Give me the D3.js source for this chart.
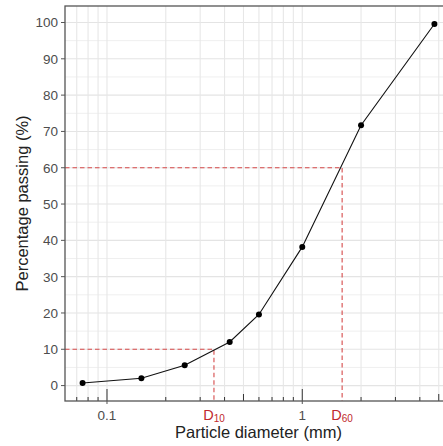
<!DOCTYPE html>
<html>
<head>
<meta charset="utf-8">
<script src="https://cdn.jsdelivr.net/npm/d3@7"></script>
<style>
  body { margin: 0; background: #fff; }
  svg { display: block; font-family: "Liberation Sans", Arial, sans-serif; }
</style>
</head>
<body>
<div id="chart"></div>
<script>
// grain size distribution curve (log x)

const diameters = [0.075, 0.15, 0.25, 0.425, 0.6, 1.0, 2.0, 4.75];
const passing = [0.7, 2.0, 5.6, 12.0, 19.6, 38.2, 71.7, 99.6];

const yTicks = [0, 10, 20, 30, 40, 50, 60, 70, 80, 90, 100];
const yMinor = [5, 15, 25, 35, 45, 55, 65, 75, 85, 95];
const xDecades = [0.01, 0.1, 1, 10];
const xMults = [1, 2, 3, 4, 5, 6, 7, 8, 9];
const xTickLabels = [{ v: 0.1, t: "0.1" }, { v: 1, t: "1" }];

const dMarks = [{ name: "10", d: 0.353, p: 10 }, { name: "60", d: 1.6, p: 60 }];

const W = 443, H = 446;
const panel = { left: 65, top: 6, right: 452, bottom: 401 };

const svg = d3.select("#chart").append("svg").attr("width", W).attr("height", H);

// 5% expansion like ggplot
const lx = d3.extent(diameters).map(Math.log10);
const lpad = (lx[1] - lx[0]) * 0.05;
const x = d3.scaleLog()
    .domain([Math.pow(10, lx[0] - lpad), Math.pow(10, lx[1] + lpad)])
    .range([panel.left, panel.right]);
const ye = d3.extent(passing);
const ypad = (ye[1] - ye[0]) * 0.05;
const y = d3.scaleLinear().domain([ye[0] - ypad, ye[1] + ypad]).range([panel.bottom, panel.top]);

const xs = [];
xDecades.forEach(dec => xMults.forEach(m => xs.push(+(dec * m).toPrecision(3))));
const xIn = xs.filter(v => x(v) >= panel.left && x(v) <= panel.right);

svg.append("defs").append("clipPath").attr("id", "clip")
    .append("rect").attr("x", panel.left).attr("y", panel.top)
    .attr("width", panel.right - panel.left).attr("height", panel.bottom - panel.top);

const g = svg.append("g").attr("clip-path", "url(#clip)");

// grid
g.append("g").selectAll("line").data(yMinor).join("line")
    .attr("x1", panel.left).attr("x2", panel.right)
    .attr("y1", d => y(d)).attr("y2", d => y(d))
    .attr("stroke", "#efefef").attr("stroke-width", 1);
g.append("g").selectAll("line").data(yTicks).join("line")
    .attr("x1", panel.left).attr("x2", panel.right)
    .attr("y1", d => y(d)).attr("y2", d => y(d))
    .attr("stroke", "#e4e4e4").attr("stroke-width", 1.1);
g.append("g").selectAll("line").data(xIn).join("line")
    .attr("x1", d => x(d)).attr("x2", d => x(d))
    .attr("y1", panel.top).attr("y2", panel.bottom)
    .attr("stroke", "#e7e7e7").attr("stroke-width", 1.1);

// dashed guides for D10 / D60
dMarks.forEach(m => {
    g.append("path")
        .attr("d", `M${panel.left},${y(m.p)}H${x(m.d)}V${panel.bottom}`)
        .attr("fill", "none").attr("stroke", "#d64a4a")
        .attr("stroke-width", 1.1).attr("stroke-dasharray", "4.5,3");
});

// curve
const pts = diameters.map((d, i) => [x(d), y(passing[i])]);
g.append("path")
    .attr("d", d3.line()(pts))
    .attr("fill", "none").attr("stroke", "#111").attr("stroke-width", 1.1);
g.append("g").selectAll("circle").data(pts).join("circle")
    .attr("cx", d => d[0]).attr("cy", d => d[1]).attr("r", 3).attr("fill", "#000");

// log ticks inside the panel
g.append("g").selectAll("line").data(xIn).join("line")
    .attr("x1", d => x(d)).attr("x2", d => x(d))
    .attr("y1", panel.bottom)
    .attr("y2", d => {
        const m = Math.round(d / Math.pow(10, Math.floor(Math.log10(d) + 1e-9)));
        return panel.bottom - (m === 1 ? 12 : m === 5 ? 7 : 4);
    })
    .attr("stroke", "#333").attr("stroke-width", 1);

// panel border
svg.append("rect")
    .attr("x", panel.left).attr("y", panel.top)
    .attr("width", panel.right - panel.left).attr("height", panel.bottom - panel.top)
    .attr("fill", "none").attr("stroke", "#555").attr("stroke-width", 1.3);

// y axis
const yAxis = svg.append("g");
yAxis.selectAll("line").data(yTicks).join("line")
    .attr("x1", panel.left - 4).attr("x2", panel.left)
    .attr("y1", d => y(d)).attr("y2", d => y(d))
    .attr("stroke", "#555");
yAxis.selectAll("text").data(yTicks).join("text")
    .attr("x", panel.left - 7).attr("y", d => y(d)).attr("dy", "0.36em")
    .attr("text-anchor", "end").attr("font-size", 13.5).attr("fill", "#4d4d4d")
    .text(d => d);

// x axis
const xAxis = svg.append("g");
xAxis.selectAll("line").data(xTickLabels).join("line")
    .attr("x1", d => x(d.v)).attr("x2", d => x(d.v))
    .attr("y1", panel.bottom).attr("y2", panel.bottom + 3)
    .attr("stroke", "#555");
xAxis.selectAll("text").data(xTickLabels).join("text")
    .attr("x", d => x(d.v)).attr("y", panel.bottom + 19)
    .attr("text-anchor", "middle").attr("font-size", 13.5).attr("fill", "#4d4d4d")
    .text(d => d.t);

const dl = xAxis.selectAll("text.dlab").data(dMarks).join("text")
    .attr("class", "dlab")
    .attr("x", d => x(d.d)).attr("y", panel.bottom + 19)
    .attr("text-anchor", "middle").attr("font-size", 14.5).attr("fill", "#c0282d");
dl.append("tspan").text("D");
dl.append("tspan").attr("font-size", 10).attr("dy", 1.5).text(d => d.name);

// titles
svg.append("text")
    .attr("x", (panel.left + panel.right) / 2).attr("y", 438)
    .attr("text-anchor", "middle").attr("font-size", 16.5).attr("fill", "#222")
    .text("Particle diameter (mm)");
svg.append("text")
    .attr("transform", `translate(22,${(panel.top + panel.bottom) / 2}) rotate(-90)`)
    .attr("dy", "0.35em")
    .attr("text-anchor", "middle").attr("font-size", 16.5).attr("fill", "#222")
    .text("Percentage passing (%)");
</script>
</body>
</html>
